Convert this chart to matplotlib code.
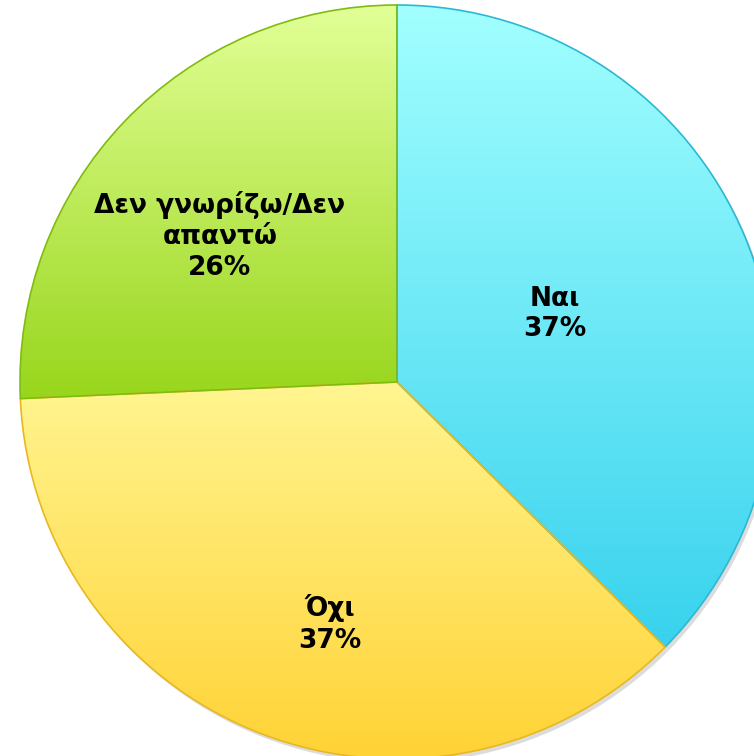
import numpy as np
import matplotlib.pyplot as plt
from matplotlib.colors import LinearSegmentedColormap

labels = ["Ναι", "Όχι", "Δεν γνωρίζω/Δεν\nαπαντώ"]
values = [37.4, 36.9, 25.7]
top_colors = ["#a2ffff", "#fff590", "#e2ff96"]
bottom_colors = ["#38d2ee", "#ffd234", "#98d61c"]
edge_colors = ["#2cb8d4", "#e8b820", "#80bc10"]
label_pos = [(555, 314), (330, 624), (220, 236)]


def main():
    fig = plt.figure(figsize=(7.54, 7.56), dpi=100)
    ax = fig.add_axes([0, 0, 1, 1])
    ax.axis("off")

    cx, cy, r = 397, 756 - 382, 377

    # soft shadow
    sh, _ = ax.pie(values, center=(cx + 3, cy - 4), radius=r, startangle=90,
                   counterclock=False, colors=["#dcdcdc"] * 3,
                   wedgeprops=dict(linewidth=0))

    wedges, _ = ax.pie(values, center=(cx, cy), radius=r, startangle=90,
                       counterclock=False, colors=["none"] * 3,
                       wedgeprops=dict(linewidth=1.2))
    ax.set_xlim(0, 754)
    ax.set_ylim(0, 756)
    ax.set_aspect("equal")

    for i, w in enumerate(wedges):
        verts = w.get_path().vertices
        x0, x1 = verts[:, 0].min(), verts[:, 0].max()
        y0, y1 = verts[:, 1].min(), verts[:, 1].max()
        cmap = LinearSegmentedColormap.from_list("g", [bottom_colors[i], top_colors[i]])
        grad = np.linspace(0, 1, 256).reshape(-1, 1)
        im = ax.imshow(grad, cmap=cmap, origin="lower", aspect="auto",
                       extent=(x0, x1, y0, y1), zorder=2)
        im.set_clip_path(w)
        w.set_edgecolor(edge_colors[i])
        w.set_zorder(3)

    ax.set_xlim(0, 754)
    ax.set_ylim(0, 756)

    for lab, v, (x, y) in zip(labels, values, label_pos):
        ax.text(x, 756 - y, f"{lab}\n{v:.0f}%", ha="center", va="center",
                fontsize=19, fontweight="bold", family="DejaVu Sans",
                linespacing=1.25, zorder=5)

    fig.savefig("out.png", dpi=100)


if __name__ == "__main__":
    main()
